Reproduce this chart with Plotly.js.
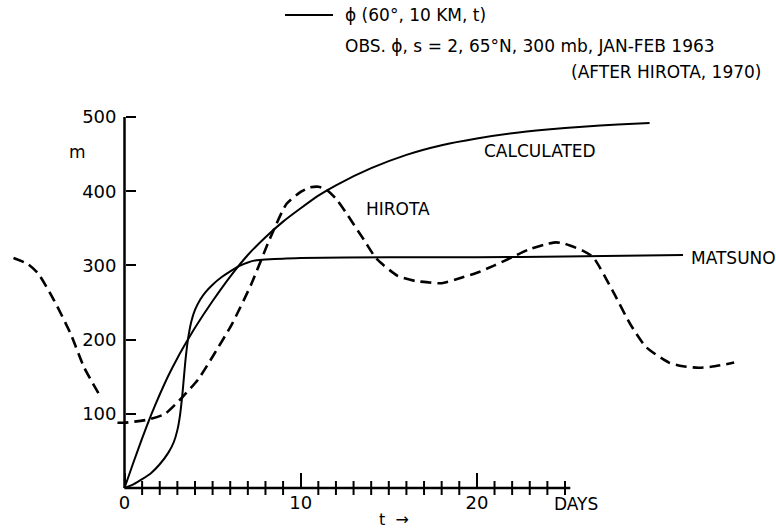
<!DOCTYPE html>
<html>
<head>
<meta charset="utf-8">
<script src="https://cdn.plot.ly/plotly-3.0.1.min.js"></script>
<style>html,body{margin:0;padding:0;background:#fff;}#chart{width:776px;height:528px;}</style>
</head>
<body>
<div id="chart"></div>
<script>
// ---- data ----
const calcDays = [0, 0.5, 1, 1.5, 2, 2.5, 3, 3.5, 4, 5, 6, 7, 8, 9, 10, 11, 12, 14, 16, 18, 20, 22, 24, 26, 28, 29.8];
const calcVals = [0, 34, 67, 98, 126, 152, 175, 196, 216, 252, 285, 314, 338, 359, 377, 394, 408, 431, 449, 462, 471, 478, 483, 487, 490, 492];

const matsunoDays = [0, 0.5, 1, 1.5, 2, 2.5, 2.8, 3.0, 3.15, 3.3, 3.45, 3.6, 3.8, 4.0, 4.3, 4.6, 5.0, 5.5, 6, 6.5, 7, 7.5, 8, 9, 10, 15, 20, 25, 31.7];
const matsunoVals = [0, 5, 12, 20, 32, 48, 62, 78, 98, 130, 170, 200, 225, 240, 254, 264, 274, 284, 292, 299, 304, 307, 308, 309, 310, 311, 311, 312, 314];

const hirotaDays = [-6.3, -5.5, -4.9, -4.0, -3.06, -2.3, -1.36, null,
  -0.4, 0, 1.3, 2.3, 3.27, 4.2, 5.1, 6.1, 7.2, 8.25, 9.2, 10, 10.5, 11, 11.4, 12, 12.6, 13.6, 14.3, 15.5, 16.5, 17.3, 18,
  19.2, 20, 21, 22, 23, 24, 24.5, 25, 26, 26.6, 27.7, 28.7, 29.6, 30.9, 31.7, 32.6, 33.5, 34.6];
const hirotaVals = [310, 302, 289, 253, 208, 163, 123, null,
  88, 88, 92, 100, 122, 147, 181, 221, 275, 336, 383, 399, 405, 406, 403, 390, 370, 334, 309, 286, 279, 277, 276,
  284, 290, 300, 311, 322, 329, 331, 329, 320, 311, 266, 221, 190, 169, 164, 162, 164, 169];

const yTickVals = [100, 200, 300, 400, 500];
const yTickText = ["100", "200", "300", "400", "500"];
const xTickVals = [0, 10, 20];
const xTickText = ["0", "10", "20"];
const xMinorDays = [1,2,3,4,5,6,7,8,9,11,12,13,14,15,16,17,18,19,21,22,23,24,25];
const xAxisEnd = 25.3;
const yAxisTop = 500;

// ---- layout helpers (pixel -> paper) ----
const W = 776, H = 528;
const x0px = 124.5, xScale = 17.62;   // px per day
const y0px = 488, yScale = 0.742;     // px per metre
const px = v => v / W;
const py = v => 1 - v / H;

const FONT = "DejaVu Sans, Verdana, sans-serif";
const black = "#000";

const traces = [
  { x: calcDays, y: calcVals, mode: "lines", line: {color: black, width: 2, shape: "spline", smoothing: 0.5}, name: "CALCULATED", hoverinfo: "skip" },
  { x: matsunoDays, y: matsunoVals, mode: "lines", line: {color: black, width: 2, shape: "spline", smoothing: 0.4}, name: "MATSUNO", hoverinfo: "skip" },
  { x: hirotaDays, y: hirotaVals, mode: "lines", connectgaps: false, line: {color: black, width: 2.6, dash: "11px,6px", shape: "spline", smoothing: 0.6}, name: "HIROTA", hoverinfo: "skip" },
  // axis lines
  { x: [0, xAxisEnd], y: [0, 0], mode: "lines", line: {color: black, width: 2.5}, hoverinfo: "skip" },
  { x: [0, 0], y: [0, yAxisTop], mode: "lines", line: {color: black, width: 2.5}, hoverinfo: "skip" },
  // minor tick crosses
  { x: xMinorDays, y: xMinorDays.map(() => 0), mode: "markers", cliponaxis: false,
    marker: {symbol: "line-ns-open", size: 10, color: black, line: {color: black, width: 2}}, hoverinfo: "skip" }
];

const ann = (text, x, y, xanchor, size) => ({
  text, x: px(x), y: py(y), xref: "paper", yref: "paper", xanchor: xanchor || "center", yanchor: "middle",
  showarrow: false, font: {family: FONT, size: size || 17, color: black}
});

const layout = {
  width: W, height: H,
  margin: {l: 0, r: 0, t: 0, b: 0, pad: 0},
  paper_bgcolor: "#fff", plot_bgcolor: "rgba(0,0,0,0)",
  showlegend: false,
  xaxis: {
    range: [-x0px / xScale, (W - x0px) / xScale], domain: [0, 1],
    anchor: "free", position: (H - y0px) / H,
    showgrid: false, zeroline: false, showline: false,
    tickmode: "array", tickvals: xTickVals, ticktext: xTickText,
    ticks: "inside", ticklen: 15, tickwidth: 2, tickcolor: black,
    tickfont: {family: FONT, size: 18, color: black}, ticklabelstandoff: 2
  },
  yaxis: {
    range: [-(H - y0px) / yScale, y0px / yScale], domain: [0, 1],
    anchor: "free", position: x0px / W,
    showgrid: false, zeroline: false, showline: false,
    tickmode: "array", tickvals: yTickVals, ticktext: yTickText,
    ticks: "inside", ticklen: 10, tickwidth: 2, tickcolor: black,
    tickfont: {family: FONT, size: 18, color: black}, ticklabelstandoff: 8
  },
  shapes: [
    {type: "line", xref: "paper", yref: "paper", x0: px(285), x1: px(333), y0: py(15), y1: py(15), line: {color: black, width: 2}}
  ],
  annotations: [
    ann("ϕ (60°, 10 KM, t)", 343, 15, "left", 17),
    ann("OBS. ϕ, s = 2, 65°N, 300 mb, JAN-FEB 1963", 343, 46, "left", 17),
    ann("(AFTER HIROTA, 1970)", 763, 72, "right", 17),
    ann("m", 77, 152, "center", 17),
    ann("CALCULATED", 540, 151, "center", 17),
    ann("HIROTA", 398, 209, "center", 17),
    ann("MATSUNO", 689, 258, "left", 17),
    ann("DAYS", 576, 504, "center", 17),
    ann("t  →", 394, 519, "center", 16)
  ]
};

Plotly.newPlot("chart", traces, layout, {staticPlot: true, displayModeBar: false});
</script>
</body>
</html>
